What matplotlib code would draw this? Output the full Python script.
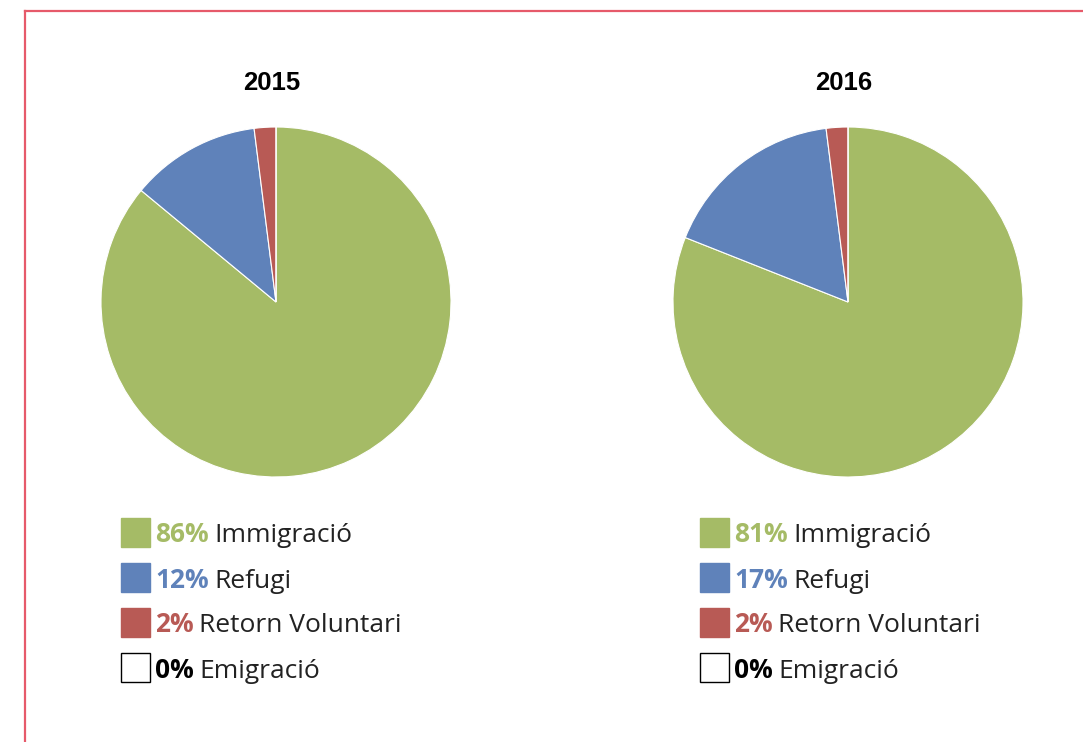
import matplotlib
matplotlib.use("Agg")
import matplotlib.pyplot as plt
from matplotlib.patches import Rectangle
from matplotlib.lines import Line2D

# === Data ===
categories = ["Immigració", "Refugi", "Retorn Voluntari", "Emigració"]
years = ["2015", "2016"]
values_2015 = [86, 12, 2, 0]
values_2016 = [81, 17, 2, 0]
colors = ["#a5bb66", "#5f82ba", "#b85a55", "#ffffff"]
text_colors = ["#a5bb66", "#5f82ba", "#b85a55", "#000000"]

W, H = 1083, 742
fig = plt.figure(figsize=(W / 100, H / 100), dpi=100)

# background axes in pixel coords (for frame + legend)
bg = fig.add_axes([0, 0, 1, 1])
bg.set_xlim(0, W)
bg.set_ylim(H, 0)
bg.axis("off")
border = "#e65a6a"
bg.add_line(Line2D([25, 25], [11, H], color=border, lw=1.6))
bg.add_line(Line2D([25, W], [11, 11], color=border, lw=1.6))

R = 175
centers = [276, 848]
legend_x = [120, 699]
rows_y = [532, 577, 622, 667]

for year, vals, cx, lx in zip(years, [values_2015, values_2016], centers, legend_x):
  cy = 302
  ax = fig.add_axes([(cx - R) / W, (H - cy - R) / H, 2 * R / W, 2 * R / H])
  ax.pie(vals, colors=colors, startangle=90, counterclock=False,
         wedgeprops=dict(edgecolor="white", linewidth=0.8))
  ax.set_xlim(-1, 1)
  ax.set_ylim(-1, 1)
  ax.set_aspect("auto")

  bg.text(cx - 4, 83, year, ha="center", va="center", fontsize=18.5,
          fontweight="bold", family="Liberation Sans")

  # Legend
  for cat, v, c, tc, y in zip(categories, vals, colors, text_colors, rows_y):
    ec = "black" if c == "#ffffff" else c
    bg.add_patch(Rectangle((lx + 0.5, y - 14.5), 29, 29, facecolor=c,
                           edgecolor=ec, lw=1))
    num = bg.text(lx + 35, y + 3, f"{v}%", ha="left", va="center",
                  fontsize=19, fontweight="bold", color=tc, family="Open Sans")
    bg.annotate(cat, xy=(1, 0), xycoords=num, xytext=(4, 0),
                textcoords="offset points", ha="left", va="bottom",
                fontsize=19, color="#222222", family="Open Sans", zorder=6)

fig.savefig("out.png", dpi=100)
